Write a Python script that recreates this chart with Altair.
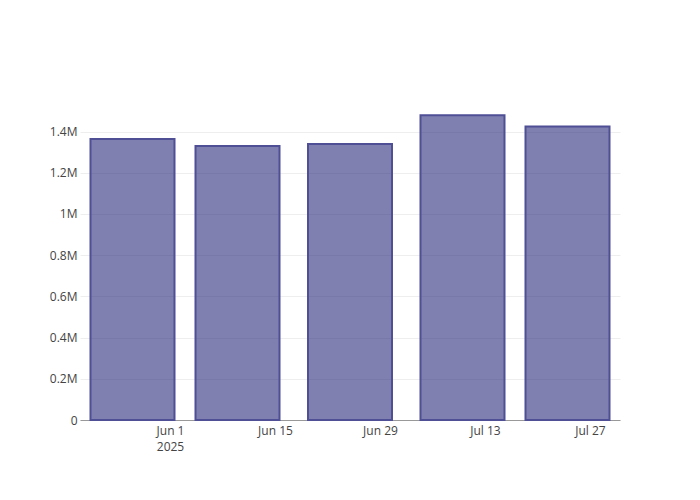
import altair as alt
import pandas as pd

dates = ["2025-05-27", "2025-06-10", "2025-06-25", "2025-07-10", "2025-07-24"]
values = [1364000, 1330000, 1340000, 1479000, 1424000]
y_ticks = [0, 200000, 400000, 600000, 800000, 1000000, 1200000, 1400000]

df = pd.DataFrame({"date": dates, "value": values})

x_ticks = [
    alt.DateTime(year=2025, month=6, date=1, utc=True),
    alt.DateTime(year=2025, month=6, date=15, utc=True),
    alt.DateTime(year=2025, month=6, date=29, utc=True),
    alt.DateTime(year=2025, month=7, date=13, utc=True),
    alt.DateTime(year=2025, month=7, date=27, utc=True),
]

font = "Open Sans"

chart = (
    alt.Chart(df)
    .mark_bar(
        size=84,
        color="#2a2a7b",
        fillOpacity=0.6,
        stroke="#4f4f96",
        strokeWidth=2,
    )
    .encode(
        x=alt.X(
            "date:T",
            title=None,
            scale=alt.Scale(
                type="utc",
                padding=0,
                domain=[
                    alt.DateTime(year=2025, month=5, date=20, utc=True),
                    alt.DateTime(year=2025, month=7, date=31, utc=True),
                ],
            ),
            axis=alt.Axis(
                values=x_ticks,
                labelExpr="utcdate(datum.value)==1 && utcmonth(datum.value)==5 ? [utcFormat(datum.value,'%b %-d'), '2025'] : utcFormat(datum.value,'%b %-d')",
                grid=False,
                ticks=False,
                domain=True,
                domainColor="#999999",
                domainWidth=1,
                labelFont=font,
                labelFontSize=12,
                labelColor="#444444",
                labelPadding=5,
                labelLineHeight=16,
                labelFlush=False,
                labelOverlap=False,
            ),
        ),
        y=alt.Y(
            "value:Q",
            title=None,
            scale=alt.Scale(domain=[0, 1553000], nice=False, zero=True),
            axis=alt.Axis(
                values=y_ticks,
                labelExpr="datum.value == 0 ? '0' : format(datum.value/1e6, '.1~f') + 'M'",
                grid=True,
                gridColor="#eeeeee",
                gridWidth=1,
                ticks=False,
                domain=False,
                labelFont=font,
                labelFontSize=12,
                labelColor="#444444",
                labelPadding=3,
            ),
        ),
    )
    .properties(
        width=540,
        height=320,
        autosize=alt.AutoSizeParams(type="none"),
        padding={"left": 72, "top": 92, "right": 20, "bottom": 40},
    )
    .configure_view(stroke=None)
)

chart.save("out.html", embed_options={"renderer": "svg", "actions": False})
